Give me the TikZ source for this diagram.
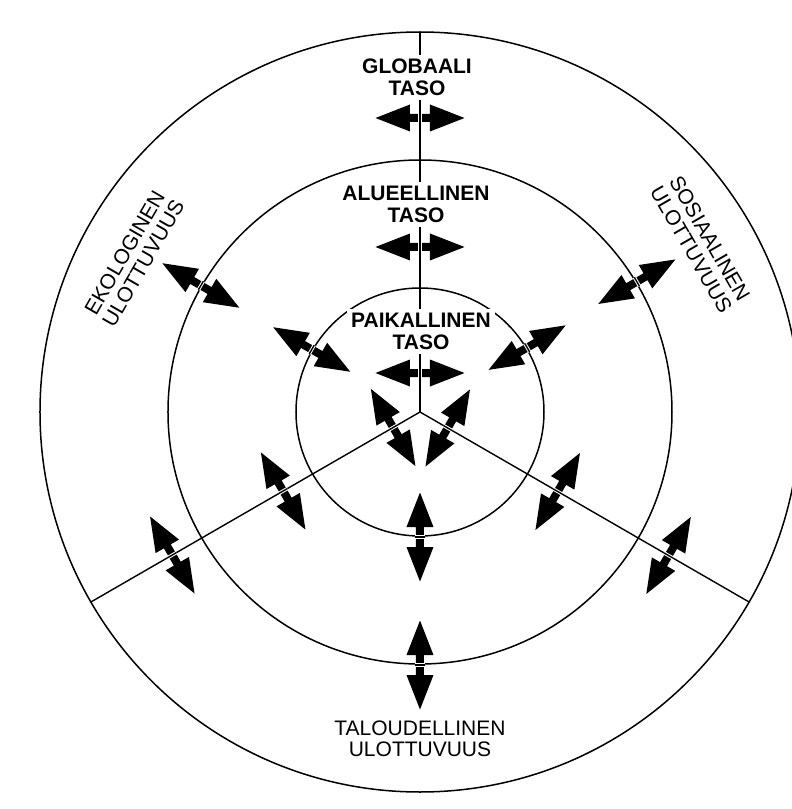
\documentclass[tikz,border=0pt]{standalone}
\usepackage{fontspec}
\setmainfont{Liberation Sans}
\begin{document}
\begin{tikzpicture}[x=1pt,y=1pt,
  ring/.style={line width=1.5pt, draw=black},
  spoke/.style={line width=1.4pt, draw=black},
  level/.style={font=\bfseries\fontsize{21}{21.8}\selectfont, align=center, fill=white, inner sep=4pt, text=black},
  dimlabel/.style={font=\fontsize{21}{21.5}\selectfont, align=center, inner sep=1pt, text=black},
  dblarrow/.pic={
    \fill[black] (-44.5,0) -- (-10,13.5) -- (-10,4) -- (10,4) -- (10,13.5) -- (44.5,0)
                 -- (10,-13.5) -- (10,-4) -- (-10,-4) -- (-10,-13.5) -- cycle;
    \draw[white, line width=3.4pt] (0,-5) -- (0,5);
    \draw[black, line width=1.4pt] (0,-5) -- (0,5);
  }]
\useasboundingbox (-420,-397) rectangle (372,412);
\fill[white] (-420,-397) rectangle (372,412);
\coordinate (O) at (0,0);
% circles
\draw[ring] (O) circle (124pt);
\draw[ring] (O) circle (252pt);
\draw[ring] (O) circle (380pt);
% spokes
\coordinate (Ptop) at (90:380pt);
\coordinate (Pleft) at (210:380pt);
\coordinate (Pright) at (330:380pt);
\draw[spoke] (O) -- (Ptop);
\draw[spoke] (O) -- (Pleft);
\draw[spoke] (O) -- (Pright);
% level labels
\node[level] (glob) at (-3,334.5) {GLOBAALI\\TASO};
\node[level] (alue) at (-4,207.5) {ALUEELLINEN\\TASO};
\node[level] (paik) at (1,80.5) {PAIKALLINEN\\TASO};
% dimension labels
\node[dimlabel] (talo) at (0,-327) {TALOUDELLINEN\\ULOTTUVUUS};
\node[dimlabel, rotate=60] (eko) at (-286,154) {EKOLOGINEN\\ULOTTUVUUS};
\node[dimlabel, rotate=-60] (sos) at (280.5,168) {SOSIAALINEN\\ULOTTUVUUS};
% arrows across the vertical spoke
\pic (v1) at (0,294) {dblarrow};
\pic (v2) at (0,165) {dblarrow};
\pic (v3) at (0,39) {dblarrow};
% arrows across the lower-left spoke
\pic[rotate=-60] (l1) at (210:31pt) {dblarrow};
\pic[rotate=-60] (l2) at (210:158pt) {dblarrow};
\pic[rotate=-60] (l3) at (210:286pt) {dblarrow};
% arrows across the lower-right spoke
\pic[rotate=60] (r1) at (330:32pt) {dblarrow};
\pic[rotate=60] (r2) at (330:159pt) {dblarrow};
\pic[rotate=60] (r3) at (330:287pt) {dblarrow};
% arrows across the circles
\pic[rotate=-30] (e1) at (150:125pt) {dblarrow};
\pic[rotate=-30] (e2) at (150:253pt) {dblarrow};
\pic[rotate=30] (s1) at (31:125pt) {dblarrow};
\pic[rotate=30] (s2) at (31:253pt) {dblarrow};
\pic[rotate=90] (t1) at (270:125pt) {dblarrow};
\pic[rotate=90] (t2) at (270:253pt) {dblarrow};
\end{tikzpicture}
\end{document}
